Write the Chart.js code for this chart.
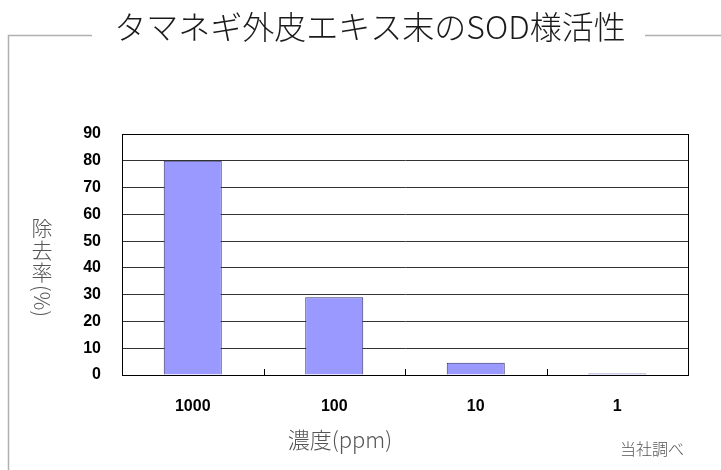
<!DOCTYPE html>
<html lang="ja">
<head>
<meta charset="utf-8">
<script src="https://cdn.jsdelivr.net/npm/chart.js@4"></script>
<style>
  html, body { margin: 0; padding: 0; background: #fff; }
  #wrap { position: relative; width: 721px; height: 470px; }
</style>
</head>
<body>
<div id="wrap"><canvas id="c" width="721" height="470"></canvas></div>
<script>
// Concentration categories and SOD-like removal rate (%)
const concentrations = ['1000', '100', '10', '1'];
const removalRate = [80, 29, 4.6, 0.6];
const yTicks = [0, 10, 20, 30, 40, 50, 60, 70, 80, 90];

const chartTitle = 'タマネギ外皮エキス末のSOD様活性';
const yTitle = ['除', '去', '率'];
const yTitleTail = '(%)';
const xTitle = '濃度(ppm)';
const sourceNote = '当社調べ';

const CJK = '"Noto Sans CJK JP", "Noto Sans", sans-serif';
const NUM = '"Liberation Sans", Arial, sans-serif';

// Frame, title, axis titles and plot border drawn on the canvas
const decorations = {
  id: 'decorations',
  beforeDraw(chart) {
    const ctx = chart.ctx;
    ctx.save();
    ctx.fillStyle = '#fff';
    ctx.fillRect(0, 0, chart.width, chart.height);
    // outer frame broken by the title
    ctx.strokeStyle = '#b0b0b0';
    ctx.lineWidth = 1.5;
    ctx.beginPath();
    ctx.moveTo(8.5, 470);
    ctx.lineTo(8.5, 35.5);
    ctx.lineTo(92, 35.5);
    ctx.moveTo(645, 35.5);
    ctx.lineTo(721, 35.5);
    ctx.stroke();
    ctx.restore();
  },
  afterDraw(chart) {
    const ctx = chart.ctx;
    const area = chart.chartArea;
    const xs = chart.scales.x;
    ctx.save();
    // plot border
    ctx.strokeStyle = '#000';
    ctx.lineWidth = 1;
    ctx.strokeRect(Math.round(area.left) + 0.5, Math.round(area.top) + 0.5,
      Math.round(area.right - area.left), Math.round(area.bottom - area.top));
    // inner tick marks at category boundaries
    ctx.beginPath();
    for (let i = 0; i < concentrations.length - 1; i++) {
      const bx = Math.round((xs.getPixelForValue(i) + xs.getPixelForValue(i + 1)) / 2) + 0.5;
      ctx.moveTo(bx, area.bottom);
      ctx.lineTo(bx, area.bottom - 6);
    }
    ctx.stroke();

    // title
    ctx.fillStyle = '#1a1a1a';
    ctx.font = '300 32px ' + CJK;
    ctx.textAlign = 'center';
    ctx.textBaseline = 'middle';
    ctx.fillText(chartTitle, 370, 27);

    // vertical y-axis title (upright CJK, rotated brackets)
    ctx.fillStyle = '#555';
    ctx.font = '300 21px ' + CJK;
    let y = 228;
    yTitle.forEach(ch => {
      ctx.fillText(ch, 42, y);
      y += 22;
    });
    ctx.save();
    ctx.translate(42, y + 7);
    ctx.rotate(Math.PI / 2);
    ctx.fillText(yTitleTail, 0, 0);
    ctx.restore();

    // x-axis title
    ctx.font = '300 22px ' + CJK;
    ctx.fillText(xTitle, 340, 440);

    // source note
    ctx.font = '300 16px ' + CJK;
    ctx.fillText(sourceNote, 652, 449);
    ctx.restore();
  }
};

new Chart(document.getElementById('c'), {
  type: 'bar',
  data: {
    labels: concentrations,
    datasets: [{
      data: removalRate,
      backgroundColor: '#9999ff',
      borderColor: '#333366',
      borderWidth: 1,
      categoryPercentage: 1,
      barPercentage: 0.41
    }]
  },
  options: {
    responsive: false,
    animation: false,
    layout: { padding: { left: 0, top: 134, right: 33, bottom: 0 } },
    plugins: {
      legend: { display: false },
      tooltip: { enabled: false },
      title: { display: false }
    },
    scales: {
      x: {
        grid: { display: false, drawTicks: false },
        border: { display: true, color: '#000' },
        ticks: {
          color: '#000',
          padding: 22,
          font: { family: NUM, size: 16, weight: 'bold' }
        },
        afterFit(scale) { scale.height = 95; }
      },
      y: {
        min: 0,
        max: 90,
        afterBuildTicks(scale) { scale.ticks = yTicks.map(v => ({ value: v })); },
        grid: { color: '#333', lineWidth: 1, drawTicks: false },
        border: { display: true, color: '#000' },
        ticks: {
          color: '#000',
          padding: 21,
          font: { family: NUM, size: 16, weight: 'bold' }
        },
        afterFit(scale) { scale.width = 122; }
      }
    }
  },
  plugins: [decorations]
});
</script>
</body>
</html>
